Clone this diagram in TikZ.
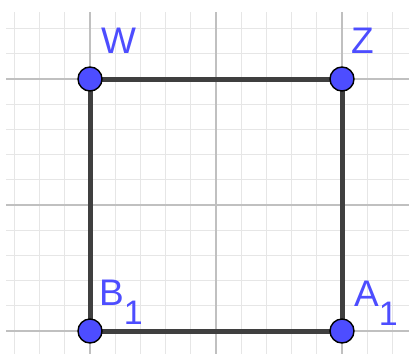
\documentclass[tikz,border=0pt]{standalone}
\usepackage{fontspec}
\setmainfont{Liberation Sans}
\definecolor{ggblue}{HTML}{4D4DFF}
\definecolor{minorgrid}{HTML}{E6E6E6}
\definecolor{majorgrid}{HTML}{C0C0C0}
\definecolor{segcol}{HTML}{3F3F3F}
\tikzset{
  minorline/.style={draw=minorgrid, line width=1pt},
  majorline/.style={draw=majorgrid, line width=1.3pt},
  seg/.style={draw=segcol, line width=5pt},
  pt/.style={circle, fill=ggblue, draw=black, line width=1.4pt, minimum size=24pt, inner sep=0pt},
  lbl/.style={anchor=base west, inner sep=0pt, text=ggblue, font=\fontsize{37}{40}\selectfont},
}
\newcommand{\subone}{\raisebox{-19pt}{\fontsize{34}{34}\selectfont 1}}
\begin{document}
\begin{tikzpicture}[x=1pt,y=-1pt]
\useasboundingbox (0,0) rectangle (409,354);
\fill[white] (0,0) rectangle (409,354);
\begin{scope}
\clip (6,12) rectangle (409,354);
\foreach \k in {-3,...,12} {
  \draw[minorline] ({90+25.2*\k},12) -- ({90+25.2*\k},354);
}
\foreach \k in {-2,...,10} {
  \draw[minorline] (6,{79+25.2*\k}) -- (409,{79+25.2*\k});
}
\foreach \k in {0,1,2} {
  \draw[majorline] ({90+126*\k},12) -- ({90+126*\k},354);
  \draw[majorline] (6,{79+126*\k}) -- (409,{79+126*\k});
}
\end{scope}
\coordinate (W) at (90,79);
\coordinate (Z) at (342,79);
\coordinate (B1) at (90,331);
\coordinate (A1) at (342,331);
\draw[seg] (W) -- (Z) -- (A1) -- (B1) -- cycle;
\node[pt] (pW) at (W) {};
\node[pt] (pZ) at (Z) {};
\node[pt] (pB1) at (B1) {};
\node[pt] (pA1) at (A1) {};
\node[lbl] (lW) at (101,53) {W};
\node[lbl] (lZ) at (351,53) {Z};
\node[lbl] (lB1) at (99,305) {B\subone};
\node[lbl] (lA1) at (354,306) {A\subone};
\end{tikzpicture}
\end{document}
